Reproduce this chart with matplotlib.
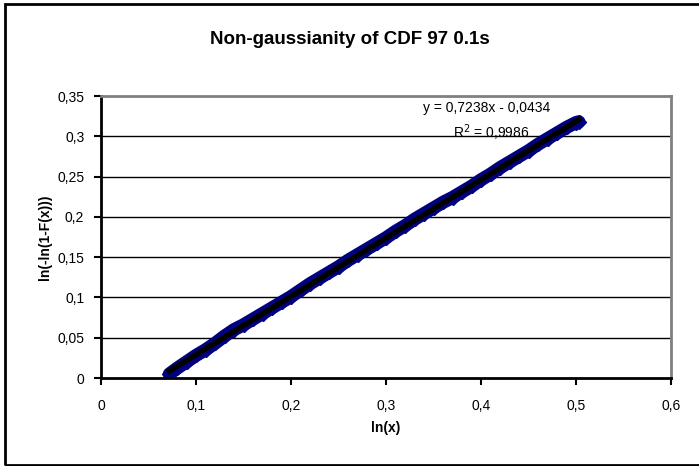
import numpy as np
import matplotlib
matplotlib.use("Agg")
import matplotlib.pyplot as plt
from matplotlib.patches import Rectangle

plt.rcParams['font.family'] = ['Liberation Sans', 'DejaVu Sans']

# points (dense band of diamonds)
ln_x = [0.072, 0.080, 0.090, 0.100, 0.110, 0.120, 0.130, 0.140, 0.150, 0.160,
        0.170, 0.180, 0.190, 0.200, 0.210, 0.220, 0.230, 0.240, 0.250, 0.260,
        0.270, 0.280, 0.290, 0.300, 0.310, 0.320, 0.330, 0.340, 0.350, 0.360,
        0.370, 0.380, 0.390, 0.400, 0.410, 0.420, 0.430, 0.440, 0.450, 0.460,
        0.470, 0.480, 0.490, 0.500, 0.503]
ln_ln = [0.005, 0.012, 0.020, 0.028, 0.035, 0.043, 0.052, 0.060, 0.066, 0.073,
         0.080, 0.087, 0.094, 0.101, 0.109, 0.117, 0.124, 0.131, 0.138, 0.146,
         0.153, 0.160, 0.167, 0.174, 0.182, 0.189, 0.197, 0.204, 0.211, 0.218,
         0.224, 0.231, 0.238, 0.246, 0.253, 0.261, 0.268, 0.275, 0.282, 0.290,
         0.297, 0.304, 0.311, 0.317, 0.318]

slope = 0.7238
intercept = -0.0434
r2 = 0.9986

x_ticks = [0, 0.1, 0.2, 0.3, 0.4, 0.5, 0.6]
y_ticks = [0, 0.05, 0.1, 0.15, 0.2, 0.25, 0.3, 0.35]


def comma(v):
    return ('%g' % v).replace('.', ',')


fig = plt.figure(figsize=(6.99, 4.66), dpi=100)
fig.patches.append(Rectangle((5 / 699, 1.5 / 466), 1.2, 1 - 5.5 / 466,
                             transform=fig.transFigure, fill=False,
                             edgecolor='black', linewidth=2))

ax = fig.add_axes([101 / 699, 88 / 466, 570 / 699, 282 / 466])
ax.set_xlim(0, 0.6)
ax.set_ylim(0, 0.35)

for y in y_ticks[1:-1]:
    ax.axhline(y, color='black', linewidth=1, zorder=1)

xs = np.array(ln_x)
ys = np.array(ln_ln)
ax.plot(xs, ys, color='#000080', linewidth=9.5, solid_capstyle='round', zorder=2)
ax.plot(xs, ys, 'D', color='#000080', markersize=7.5, zorder=2)

# trendline
fx = np.array([min(ln_x), max(ln_x)])
ax.plot(fx, slope * fx + intercept, color='black', linewidth=4, zorder=3)

ax.text(0.339, 0.335, 'y = ' + comma(slope) + 'x - ' + comma(-intercept),
        fontsize=10, va='center', ha='left')
ax.text(0.3705, 0.305, 'R$^2$ = ' + comma(r2), fontsize=10, va='center', ha='left')

ax.set_xticks(x_ticks)
ax.set_xticklabels([comma(v) for v in x_ticks])
ax.set_yticks(y_ticks)
ax.set_yticklabels([comma(v) for v in y_ticks])
ax.tick_params(direction='out', length=5, width=1.5, labelsize=10, pad=10)
ax.tick_params(axis='y', pad=7)

for side in ['left', 'bottom']:
    ax.spines[side].set_linewidth(2)
    ax.spines[side].set_color('black')
for side in ['top', 'right']:
    ax.spines[side].set_linewidth(2)
    ax.spines[side].set_color('#808080')

ax.set_xlabel('ln(x)', fontsize=10, fontweight='bold', labelpad=6)
ax.set_ylabel('ln(-ln(1-F(x)))', fontsize=10, fontweight='bold', labelpad=4)

fig.text(0.5, 1 - 40 / 466, 'Non-gaussianity of CDF 97 0.1s', ha='center',
         va='center', fontsize=13.5, fontweight='bold')

fig.savefig('out.png', dpi=100)
